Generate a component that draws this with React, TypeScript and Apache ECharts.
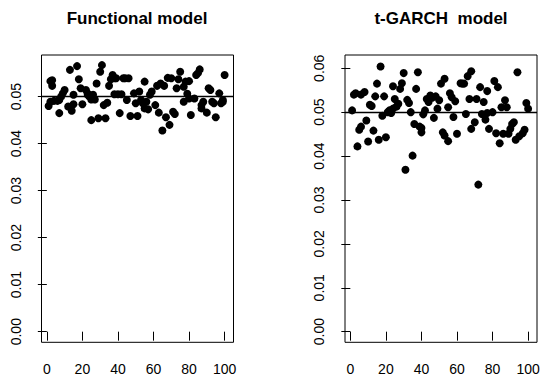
import React, { useEffect, useRef } from "react";
import * as echarts from "echarts";

const titles = ["Functional model", "t-GARCH  model"];

const funcX = [1, 2, 3, 3, 2, 4, 6, 7, 7, 8, 9, 10, 12, 14, 13, 15, 15, 17, 18, 19, 20, 22, 23, 23, 24, 25, 26, 27, 25, 28, 29, 30, 31, 32, 33, 34, 35, 36, 37, 38, 39, 38, 40, 42, 41, 43, 44, 46, 45, 47, 49, 50, 51, 52, 53, 54, 55, 55, 56, 57, 58, 59, 61, 63, 62, 64, 65, 66, 67, 69, 68, 70, 71, 72, 73, 74, 75, 77, 77, 78, 79, 80, 80, 81, 83, 84, 85, 86, 87, 87, 88, 90, 91, 92, 93, 94, 95, 97, 98, 99, 99, 100];
const funcY = [0.048, 0.0533, 0.0523, 0.0535, 0.0489, 0.0491, 0.0491, 0.0493, 0.0465, 0.05, 0.0507, 0.0514, 0.0479, 0.047, 0.0557, 0.0484, 0.0504, 0.0565, 0.0537, 0.0518, 0.0484, 0.0514, 0.0507, 0.0504, 0.05, 0.0494, 0.0504, 0.0494, 0.045, 0.0528, 0.0454, 0.0553, 0.0567, 0.0482, 0.0454, 0.0487, 0.0523, 0.0537, 0.0546, 0.0539, 0.0539, 0.0505, 0.0505, 0.0505, 0.0465, 0.0539, 0.0539, 0.0539, 0.0493, 0.0459, 0.0507, 0.0486, 0.0459, 0.0511, 0.0493, 0.0486, 0.0475, 0.0532, 0.0489, 0.0473, 0.0504, 0.0511, 0.0482, 0.0466, 0.0523, 0.0528, 0.0428, 0.0523, 0.0456, 0.044, 0.054, 0.0539, 0.0468, 0.0463, 0.0518, 0.0537, 0.0553, 0.0521, 0.0489, 0.0532, 0.0506, 0.0496, 0.0533, 0.0461, 0.0496, 0.0546, 0.055, 0.0558, 0.0475, 0.0482, 0.0489, 0.0466, 0.0518, 0.0514, 0.0489, 0.0486, 0.0456, 0.0507, 0.0486, 0.0489, 0.0493, 0.0546];

const garchX = [1, 2, 3, 4, 5, 6, 6, 8, 9, 10, 11, 12, 13, 14, 15, 16, 17, 18, 19, 20, 21, 22, 23, 24, 24, 25, 26, 27, 28, 29, 30, 31, 32, 33, 34, 35, 36, 37, 38, 39, 40, 40, 41, 42, 43, 44, 45, 46, 47, 48, 49, 50, 51, 52, 53, 53, 55, 55, 56, 57, 58, 59, 60, 62, 63, 64, 65, 66, 67, 68, 68, 70, 71, 72, 73, 74, 75, 76, 77, 77, 78, 80, 81, 82, 83, 84, 85, 86, 87, 88, 89, 90, 91, 92, 93, 94, 95, 97, 98, 99, 100];
const garchY = [0.0504, 0.054, 0.0543, 0.0422, 0.046, 0.054, 0.0467, 0.0546, 0.0481, 0.0433, 0.0517, 0.0514, 0.0458, 0.0536, 0.0565, 0.0437, 0.0604, 0.0492, 0.0536, 0.0443, 0.05, 0.0504, 0.0498, 0.0559, 0.0508, 0.053, 0.0513, 0.0519, 0.0553, 0.0566, 0.0589, 0.0369, 0.0528, 0.0521, 0.05, 0.0401, 0.0473, 0.0553, 0.0591, 0.0467, 0.0464, 0.0454, 0.0495, 0.0504, 0.053, 0.0523, 0.0538, 0.0533, 0.0487, 0.0536, 0.0508, 0.0527, 0.0565, 0.0454, 0.0576, 0.0447, 0.0511, 0.0434, 0.0543, 0.0534, 0.0489, 0.0525, 0.0451, 0.0566, 0.0565, 0.0565, 0.0496, 0.0582, 0.053, 0.0593, 0.0462, 0.0477, 0.053, 0.0335, 0.0557, 0.0496, 0.0523, 0.0483, 0.0548, 0.0498, 0.0462, 0.05, 0.0571, 0.0452, 0.0557, 0.0429, 0.0511, 0.0451, 0.0527, 0.0511, 0.0451, 0.0462, 0.0473, 0.0477, 0.0437, 0.0591, 0.0445, 0.0452, 0.046, 0.0521, 0.0508];

const xTicks = [0, 20, 40, 60, 80, 100];
const yTicksLeft = [0, 0.01, 0.02, 0.03, 0.04, 0.05];
const yTicksRight = [0, 0.01, 0.02, 0.03, 0.04, 0.05, 0.06];
const refLevel = 0.05;

const FONT = "Liberation Sans, Arial, Helvetica, sans-serif";

function makeY(gridIndex: number, min: number, max: number, ticks: number[]) {
  return {
    type: "value",
    gridIndex,
    min,
    max,
    splitLine: { show: false },
    axisLine: { show: false },
    axisTick: { show: true, inside: false, length: 9, customValues: ticks, lineStyle: { color: "#000", width: 1 } },
    axisLabel: {
      show: true,
      customValues: ticks,
      rotate: 90,
      margin: 19,
      color: "#000",
      fontSize: 14,
      fontFamily: FONT,
      hideOverlap: false,
      formatter: (v: number) => v.toFixed(2),
    },
  };
}

function makeX(gridIndex: number) {
  return {
    type: "value",
    gridIndex,
    min: -3,
    max: 105,
    splitLine: { show: false },
    axisLine: { show: false },
    axisTick: { show: true, inside: false, length: 9, customValues: xTicks, lineStyle: { color: "#000", width: 1 } },
    axisLabel: {
      show: true,
      customValues: xTicks,
      margin: 20,
      color: "#000",
      fontSize: 14,
      fontFamily: FONT,
      hideOverlap: false,
      formatter: (v: number) => String(v),
    },
  };
}

function makeSeries(idx: number, xs: number[], ys: number[]) {
  return {
    type: "scatter",
    xAxisIndex: idx,
    yAxisIndex: idx,
    data: xs.map((x, i) => [x, ys[i]]),
    symbol: "circle",
    symbolSize: 8,
    itemStyle: { color: "#000", opacity: 1 },
    silent: true,
    markLine: {
      silent: true,
      symbol: "none",
      label: { show: false },
      lineStyle: { color: "#000", type: "solid", width: 1.3 },
      data: [{ yAxis: refLevel }],
    },
  };
}

export default function App() {
  const ref = useRef<HTMLDivElement>(null);
  useEffect(() => {
    if (!ref.current) return;
    const chart = echarts.init(ref.current, null, { renderer: "svg" });
    chart.setOption({
      animation: false,
      backgroundColor: "#fff",
      textStyle: { fontFamily: FONT },
      grid: [
        { left: 41.5, top: 55, width: 192, height: 287.3, show: true, borderColor: "#000", borderWidth: 1, backgroundColor: "transparent" },
        { left: 345, top: 55, width: 192, height: 287.3, show: true, borderColor: "#000", borderWidth: 1, backgroundColor: "transparent" },
      ],
      xAxis: [makeX(0), makeX(1)],
      yAxis: [makeY(0, -0.00226, 0.05886, yTicksLeft), makeY(1, -0.00242, 0.06302, yTicksRight)],
      series: [makeSeries(0, funcX, funcY), makeSeries(1, garchX, garchY)],
      graphic: [
        {
          type: "text",
          x: 137,
          y: 18,
          style: { text: titles[0], align: "center", verticalAlign: "middle", fill: "#000", fontSize: 17, fontWeight: "bold", fontFamily: FONT },
        },
        {
          type: "text",
          x: 441,
          y: 18,
          style: { text: titles[1], align: "center", verticalAlign: "middle", fill: "#000", fontSize: 17, fontWeight: "bold", fontFamily: FONT },
        },
      ],
    });
    return () => chart.dispose();
  }, []);
  return <div ref={ref} style={{ width: 550, height: 386, position: "absolute", left: 0, top: 0 }} />;
}
